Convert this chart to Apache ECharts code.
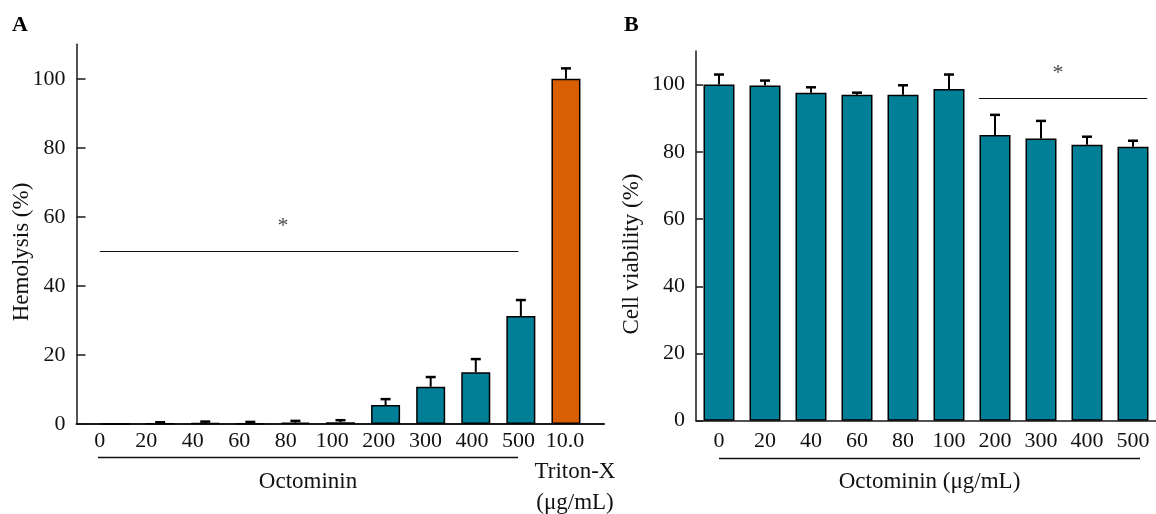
<!DOCTYPE html>
<html>
<head>
<meta charset="utf-8">
<script src="https://cdn.jsdelivr.net/npm/echarts@6/dist/echarts.min.js"></script>
<style>
html,body{margin:0;padding:0;background:#fff;}
#main{width:1156px;height:514px;}
</style>
</head>
<body>
<div id="main"></div>
<script>
// panel A - hemolysis
var catsA = ['0', '20', '40', '60', '80', '100', '200', '300', '400', '500', '10.0'];
var hemolysis = [0, 0.2, 0.3, 0.2, 0.4, 0.5, 5.5, 10.8, 15.0, 31.3, 100];
var hemolysisErr = [0, 0.3, 0.4, 0.4, 0.5, 0.6, 1.7, 2.8, 3.8, 4.6, 3.0];
var controlIndexA = 10; // Triton-X

// panel B - cell viability
var catsB = ['0', '20', '40', '60', '80', '100', '200', '300', '400', '500'];
var viability = [100, 99.7, 97.6, 97.0, 97.0, 98.7, 85.0, 84.0, 82.1, 81.5];
var viabilityErr = [3.0, 1.5, 1.6, 0.6, 2.8, 4.3, 6.0, 5.2, 2.4, 1.8];

var yTicks = [0, 20, 40, 60, 80, 100];

// significance annotations: [from, to, level] and star [x, y] in category units
var sigA = [0, 9, 50];
var starA = [3.94, 57.2];
var sigB = [5.65, 9.31, 95.8];
var starB = [7.37, 103.4];

var FONT = '"Liberation Serif", "DejaVu Serif", serif';
var TEAL = '#007f96';
var ORANGE = '#d95f02';
var INK = '#1a1a1a';

var myChart = echarts.init(document.getElementById('main'));

function errorSeries(xi, yi, vals, errs) {
	return {
		type: 'custom',
		xAxisIndex: xi,
		yAxisIndex: yi,
		silent: true,
		z: 3,
		data: vals.map(function (v, i) { return [i, v, v + errs[i]]; }),
		renderItem: function (params, api) {
			if (api.value(2) - api.value(1) <= 0) return null;
			var lo = api.coord([api.value(0), api.value(1)]);
			var hi = api.coord([api.value(0), api.value(2)]);
			var w = 5;
			return {
				type: 'group',
				children: [
					{ type: 'line', shape: { x1: lo[0], y1: lo[1], x2: hi[0], y2: hi[1] }, style: { stroke: '#000', lineWidth: 2 } },
					{ type: 'line', shape: { x1: hi[0] - w, y1: hi[1], x2: hi[0] + w, y2: hi[1] }, style: { stroke: '#000', lineWidth: 2.5 } }
				]
			};
		}
	};
}

function sigSeries(xi, yi, sig, star) {
	return {
		type: 'scatter',
		xAxisIndex: xi,
		yAxisIndex: yi,
		silent: true,
		symbolSize: 0,
		data: [star],
		label: { show: true, formatter: '*', position: 'inside', fontFamily: FONT, fontSize: 22, color: '#111' },
		markLine: {
			silent: true,
			symbol: 'none',
			label: { show: false },
			lineStyle: { color: '#111', width: 1, type: 'solid' },
			data: [[{ coord: [sig[0], sig[2]] }, { coord: [sig[1], sig[2]] }]]
		}
	};
}

function valueY(grid) {
	return {
		gridIndex: grid,
		type: 'value',
		min: 0,
		max: 110,
		axisLine: { show: true, onZero: false, lineStyle: { color: INK, width: 1.5 } },
		axisTick: { show: true, inside: true, length: grid === 0 ? 9 : 7, customValues: yTicks, lineStyle: { color: INK, width: 1.5 } },
		axisLabel: { customValues: yTicks, margin: 11, fontFamily: FONT, fontSize: 22, color: '#111' },
		splitLine: { show: false }
	};
}

option = {
	backgroundColor: '#fff',
	animation: false,
	grid: [
		{ left: 76.5, width: 527.5, top: 44.2, height: 379.8 },
		{ left: 92.5, width: 496, top: 44.2, height: 379.8 },
		{ left: 696, width: 461, top: 51, height: 369.7 }
	],
	xAxis: [
		{
			gridIndex: 0, type: 'value', min: -0.5, max: 10.84,
			axisLine: { show: true, onZero: false, lineStyle: { color: INK, width: 2 } },
			axisTick: { show: false },
			splitLine: { show: false },
			axisLabel: {
				customValues: catsA.map(function (c, i) { return i; }),
				formatter: function (v) { return catsA[Math.round(v)]; },
				margin: 6, fontFamily: FONT, fontSize: 22, color: '#111'
			}
		},
		{ gridIndex: 1, type: 'category', data: catsA, show: false },
		{
			gridIndex: 2, type: 'category', data: catsB,
			axisLine: { show: true, onZero: false, lineStyle: { color: INK, width: 1.5 } },
			axisTick: { show: false },
			axisLabel: { margin: 10, interval: 0, fontFamily: FONT, fontSize: 22, color: '#111' }
		},
		{ gridIndex: 2, type: 'value', min: -0.5, max: 9.5, show: false }
	],
	yAxis: [
		valueY(0),
		{ gridIndex: 1, type: 'value', min: 0, max: 110, show: false },
		valueY(2)
	],
	series: [
		{
			name: 'Hemolysis',
			type: 'bar',
			xAxisIndex: 1,
			yAxisIndex: 1,
			barWidth: 29,
			data: hemolysis.map(function (v, i) {
				return { value: v, itemStyle: { color: i === controlIndexA ? ORANGE : TEAL } };
			}),
			itemStyle: { borderColor: '#000', borderWidth: 1.5 }
		},
		errorSeries(1, 1, hemolysis, hemolysisErr),
		sigSeries(0, 0, sigA, starA),
		{
			name: 'Cell viability',
			type: 'bar',
			xAxisIndex: 2,
			yAxisIndex: 2,
			barWidth: 31,
			data: viability,
			itemStyle: { color: TEAL, borderColor: '#000', borderWidth: 1.5 }
		},
		errorSeries(2, 2, viability, viabilityErr),
		sigSeries(3, 2, sigB, starB)
	],
	graphic: [
		{ type: 'text', left: 12, top: 14, style: { text: 'A', font: 'bold 22px ' + FONT, fill: '#000' } },
		{ type: 'text', left: 624, top: 14, style: { text: 'B', font: 'bold 22px ' + FONT, fill: '#000' } },
		{ type: 'text', x: 22, y: 252, rotation: Math.PI / 2, style: { text: 'Hemolysis (%)', font: '23px ' + FONT, fill: '#111', align: 'center', verticalAlign: 'middle' } },
		{ type: 'text', x: 632, y: 254, rotation: Math.PI / 2, style: { text: 'Cell viability (%)', font: '23px ' + FONT, fill: '#111', align: 'center', verticalAlign: 'middle' } },
		{ type: 'line', shape: { x1: 98, y1: 457.5, x2: 518, y2: 457.5 }, style: { stroke: '#111', lineWidth: 1.3 } },
		{ type: 'line', shape: { x1: 719, y1: 458.5, x2: 1140, y2: 458.5 }, style: { stroke: '#111', lineWidth: 1.3 } },
		{ type: 'text', x: 308, y: 482, style: { text: 'Octominin', font: '23px ' + FONT, fill: '#111', align: 'center', verticalAlign: 'middle' } },
		{ type: 'text', x: 575, y: 472, style: { text: 'Triton-X', font: '23px ' + FONT, fill: '#111', align: 'center', verticalAlign: 'middle' } },
		{ type: 'text', x: 575, y: 503, style: { text: '(μg/mL)', font: '23px ' + FONT, fill: '#111', align: 'center', verticalAlign: 'middle' } },
		{ type: 'text', x: 929.5, y: 482, style: { text: 'Octominin (μg/mL)', font: '23px ' + FONT, fill: '#111', align: 'center', verticalAlign: 'middle' } }
	]
};

myChart.setOption(option);
</script>
</body>
</html>
